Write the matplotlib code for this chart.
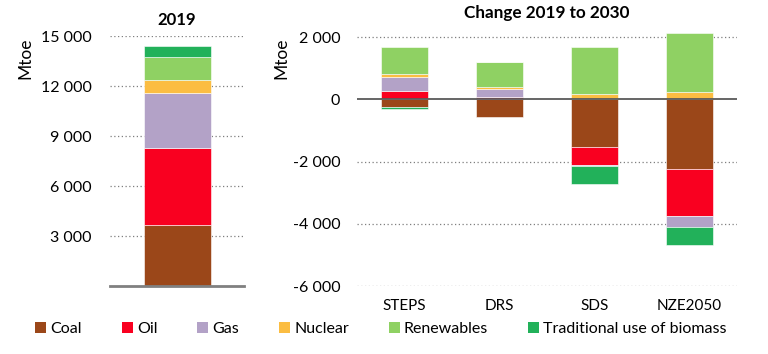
import matplotlib
matplotlib.use('Agg')
import matplotlib.pyplot as plt
import numpy as np
from matplotlib.patches import Patch

plt.rcParams['font.family'] = ['Lato', 'DejaVu Sans']

# Dados
fontes = ['Coal', 'Oil', 'Gas', 'Nuclear', 'Renewables', 'Traditional use of biomass']
cores = ['#9B4719', '#F90020', '#B3A2C7', '#FBBD42', '#8FD163', '#22B15A']

valores_2019 = [3690, 4570, 3310, 780, 1410, 640]

cenarios = ['STEPS', 'DRS', 'SDS', 'NZE2050']
coal = [-260, -570, -1540, -2230]
oil = [255, 70, -560, -1530]
gas = [470, 255, -30, -330]
nuclear = [75, 65, 160, 245]
renewables = [870, 805, 1510, 1900]
biomass = [-40, 0, -590, -580]
variacoes = [coal, oil, gas, nuclear, renewables, biomass]


def fmt(v):
    return f'{int(v):,}'.replace(',', ' ')


fig = plt.figure(figsize=(7.68, 3.54), dpi=100)
ax1 = fig.add_axes([110 / 768, 1 - 286 / 354, 134 / 768, 250 / 354])
ax2 = fig.add_axes([357 / 768, 1 - 286 / 354, 380 / 768, 255.2 / 354])

# Painel 2019
base = 0
for v, c in zip(valores_2019, cores):
    ax1.bar(0, v, bottom=base, width=0.5, color=c, edgecolor='white', linewidth=0.4, zorder=2)
    base += v
ax1.set_xlim(-0.5, 0.5)
ax1.set_ylim(0, 15000)
t1 = [3000, 6000, 9000, 12000, 15000]
ax1.set_yticks(t1)
ax1.set_yticklabels([fmt(t) for t in t1])
for t in t1:
    ax1.axhline(t, color='#7f7f7f', linestyle=(0, (1, 2)), linewidth=0.9, zorder=1)
ax1.axhline(0, color='#808080', linewidth=2, zorder=3, clip_on=False)
ax1.set_xticks([])
ax1.set_title('2019', fontsize=12, fontweight='bold', pad=8)

# Painel de variacao
x = np.arange(len(cenarios))
pos = np.zeros(len(cenarios))
neg = np.zeros(len(cenarios))
for serie, c in zip(variacoes, cores):
    s = np.array(serie, dtype=float)
    b = np.where(s >= 0, pos, neg)
    ax2.bar(x, s, bottom=b, width=0.5, color=c, edgecolor='white', linewidth=0.4, zorder=2)
    pos += np.where(s >= 0, s, 0)
    neg += np.where(s < 0, s, 0)
ax2.set_xlim(-0.5, 3.5)
ax2.set_ylim(-6000, 2200)
t2 = [-6000, -4000, -2000, 0, 2000]
ax2.set_yticks(t2)
ax2.set_yticklabels([fmt(t) for t in t2])
for t in t2:
    if t != 0:
        ax2.axhline(t, color='#7f7f7f', linestyle=(0, (1, 2)), linewidth=0.9, zorder=1)
ax2.axhline(0, color='#595959', linewidth=1.3, zorder=3)
ax2.set_xticks(x)
ax2.set_xticklabels(cenarios)
ax2.set_title('Change 2019 to 2030', fontsize=12.3, fontweight='bold', pad=9)

for ax, pad in [(ax1, 13), (ax2, 12)]:
    for s in ax.spines.values():
        s.set_visible(False)
    ax.tick_params(axis='y', length=0, labelsize=11.5, pad=pad)
    ax.tick_params(axis='x', length=0, labelsize=11, pad=9)
    ax.set_ylabel('Mtoe', fontsize=12.5)

ax1.yaxis.set_label_coords(-0.575, 0.91)
ax2.yaxis.set_label_coords(-0.179, 0.893)

handles = [Patch(facecolor=c, label=f) for f, c in zip(fontes, cores)]
fig.legend(handles=handles, loc='center', bbox_to_anchor=(0.496, 1 - 329 / 354), ncol=6,
           frameon=False, fontsize=11.5, handlelength=0.69, handleheight=0.69,
           handletextpad=0.25, columnspacing=2.5)

plt.savefig('out.png', dpi=100)
